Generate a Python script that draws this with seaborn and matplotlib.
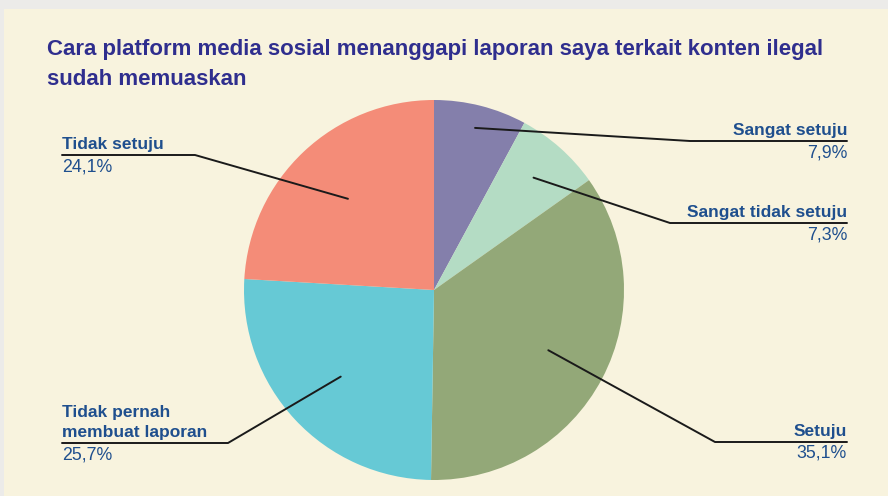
import numpy as np
import matplotlib
matplotlib.use("Agg")
import matplotlib.pyplot as plt
from matplotlib.patches import Rectangle
import seaborn as sns

categories = ["Sangat setuju", "Sangat tidak setuju", "Setuju",
              "Tidak pernah\nmembuat laporan", "Tidak setuju"]
values = [7.9, 7.3, 35.1, 25.7, 24.1]
slice_colors = ["#847fab", "#b4dcc4", "#93a878", "#66c9d5", "#f48c78"]

title = "Cara platform media sosial menanggapi laporan saya terkait konten ilegal\nsudah memuaskan"

# label layout (pixel coords, y from top)
sides = ["right", "right", "right", "left", "left"]
underline_y = [141, 223, 442, 443, 155]
elbow_x = [690, 670, 715, 228, 195]
anchor_frac = [0.88, 0.79, 0.68, 0.67, 0.66]

sns.set_theme(style="white")
plt.rcParams["font.family"] = ["Liberation Sans Narrow", "Liberation Sans", "DejaVu Sans"]

W, H = 888, 496
fig = plt.figure(figsize=(W / 100, H / 100), dpi=100, facecolor="#ecebe9")
ax = fig.add_axes([0, 0, 1, 1])

ax.add_patch(Rectangle((4, 0), W - 4, H - 9, facecolor="#f8f3de", edgecolor="none", zorder=0))

cx, cy, r = 434, H - 290, 190
wedges, _ = ax.pie(values, colors=slice_colors, startangle=90, counterclock=False,
                   center=(cx, cy), radius=r, frame=True,
                   wedgeprops=dict(linewidth=0))
ax.set_xlim(0, W)
ax.set_ylim(0, H)
ax.set_aspect("equal")
ax.axis("off")

ax.text(47, H - 39, title, fontsize=16, fontweight="bold", color="#2f2e8e",
        va="top", ha="left", linespacing=1.55)

label_color = "#1f4f8e"
for i, w in enumerate(wedges):
    mid = np.deg2rad((w.theta1 + w.theta2) / 2)
    ax_x = cx + anchor_frac[i] * r * np.cos(mid)
    ax_y = cy + anchor_frac[i] * r * np.sin(mid)
    uy = H - underline_y[i]
    if sides[i] == "right":
        x_end, ha = 847, "right"
    else:
        x_end, ha = 62, "left"
    ax.plot([ax_x, elbow_x[i], x_end], [ax_y, uy, uy], color="#1a1a1a", lw=1.4, zorder=5)
    ax.text(x_end, uy + 3, categories[i], ha=ha, va="bottom", fontsize=12.5,
            fontweight="bold", color=label_color, linespacing=1.45)
    pct = f"{values[i]:.1f}%".replace(".", ",")
    ax.text(x_end, uy - 3, pct, ha=ha, va="top", fontsize=12.8, color=label_color)

fig.savefig("out.png", dpi=100, facecolor=fig.get_facecolor())
